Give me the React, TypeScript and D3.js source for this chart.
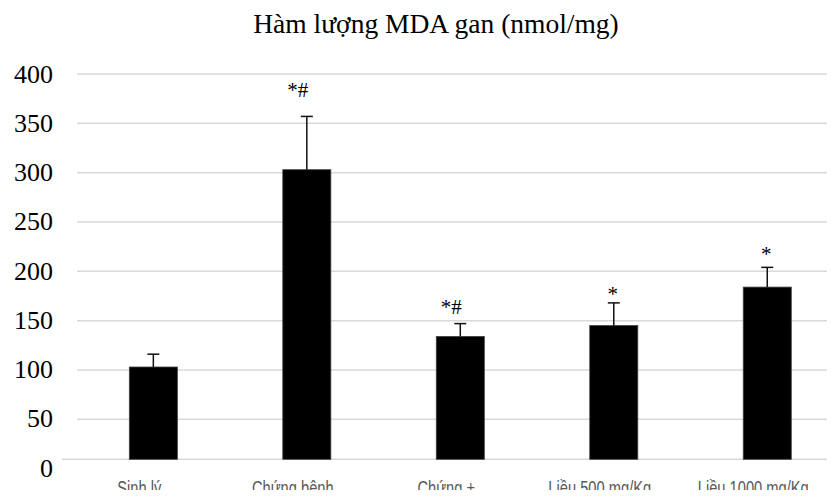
import React from "react";
import * as d3 from "d3";

const title = "Hàm lượng MDA gan (nmol/mg)";
const categories = ["Sinh lý", "Chứng bệnh", "Chứng +", "Liều 500 mg/Kg", "Liều 1000 mg/Kg"];
const means = [103, 303, 134, 145, 184];
const errors = [13, 54, 13, 23, 20];
const annotations = ["", "*#", "*#", "*", "*"];
const annotationGap = [0, 19, 10, 2, 6];
const yTicks = [0, 50, 100, 150, 200, 250, 300, 350, 400];

const W = 835;
const H = 498;

export default function App() {
  const x = d3
    .scaleBand<string>()
    .domain(categories)
    .range([76.6, 844])
    .paddingInner(0.687)
    .paddingOuter(0.3435);
  // mark scale (the zero baseline of the reference sits slightly above a linear zero)
  const y = d3.scaleLinear().domain([0, 50, 400]).range([459.3, 419.3, 74]);
  // label scale
  const yl = d3.scaleLinear().domain([0, 400]).range([468, 74]);

  const bw = x.bandwidth();
  return (
    <div style={{ margin: -8 }}>
      <svg width={W} height={H} style={{ display: "block", background: "#fff" }}>
        <text
          x={436}
          y={33}
          textAnchor="middle"
          fontFamily="'Liberation Serif', 'Times New Roman', serif"
          fontSize={27.5}
          fill="#000"
        >
          {title}
        </text>
        {yTicks.filter((t) => t > 0).map((t) => (
          <line key={"g" + t} x1={77} x2={W} y1={y(t)} y2={y(t)} stroke="#d9d9d9" strokeWidth={1.5} />
        ))}
        <line x1={62} x2={W} y1={y(0)} y2={y(0)} stroke="#d9d9d9" strokeWidth={1.5} />
        {yTicks.map((t) => (
          <text
            key={"t" + t}
            x={53}
            y={yl(t) + 8.5}
            textAnchor="end"
            fontFamily="'Liberation Serif', 'Times New Roman', serif"
            fontSize={26}
            fill="#000"
          >
            {t}
          </text>
        ))}
        {categories.map((c, i) => {
          const x0 = x(c)!;
          const cx = x0 + bw / 2;
          const top = means[i] + errors[i];
          const lx = cx - 14;
          return (
            <g key={c}>
              <rect x={x0} y={y(means[i])} width={bw} height={y(0) - y(means[i])} fill="#000" stroke="#404040" strokeWidth={0.8} />
              <line x1={cx} x2={cx} y1={y(means[i])} y2={y(top)} stroke="#111" strokeWidth={1.5} />
              <line x1={cx - 6} x2={cx + 6} y1={y(top)} y2={y(top)} stroke="#111" strokeWidth={1.5} />
              {annotations[i] && (
                <text
                  x={cx + (annotations[i].length > 1 ? -9 : -1)}
                  y={y(top) - annotationGap[i]}
                  textAnchor="middle"
                  fontFamily="'Liberation Serif', 'Times New Roman', serif"
                  fontSize={21}
                  fill="#000"
                >
                  {annotations[i]}
                </text>
              )}
              <text
                transform={`translate(${lx},494.5) scale(0.7,1)`}
                textAnchor="middle"
                fontFamily="'Liberation Sans', Arial, sans-serif"
                fontSize={21}
                fill="#595959"
              >
                {c}
              </text>
            </g>
          );
        })}
      </svg>
    </div>
  );
}
